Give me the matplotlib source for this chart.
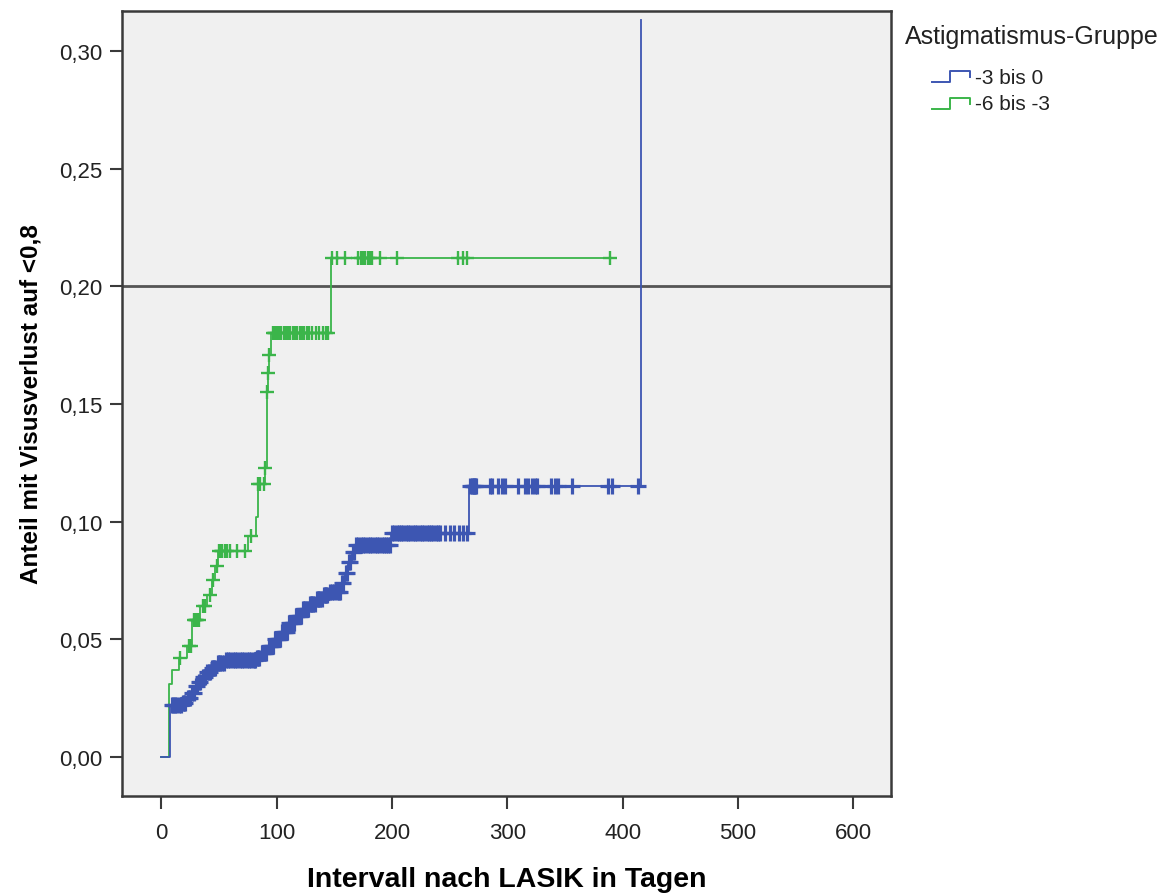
import numpy as np
import matplotlib
matplotlib.use("Agg")
import matplotlib.pyplot as plt
from matplotlib.lines import Line2D

# Kaplan-Meier style cumulative incidence
blue_t = [0, 7.5, 18, 22, 26, 29, 32, 35, 39, 43, 48, 55, 82, 86, 92, 98, 104, 110,
          116, 122, 128, 134, 140, 145, 156, 159, 162, 165, 168, 199, 267, 416]
blue_s = [0, 0.022, 0.023, 0.025, 0.027, 0.030, 0.032, 0.034, 0.036, 0.038, 0.040,
          0.041, 0.042, 0.044, 0.047, 0.050, 0.053, 0.057, 0.060, 0.063, 0.065, 0.067,
          0.069, 0.070, 0.074, 0.078, 0.083, 0.087, 0.090, 0.095, 0.115, 0.313]
blue_cens = [9, 10, 12, 13, 15, 17, 19, 20, 21, 23, 24, 25, 27, 28, 30, 31, 33, 34, 36,
             37, 38, 40, 41, 42, 44, 45, 46, 47, 49, 50, 51, 53, 54, 56, 58, 60, 62, 64,
             66, 68, 70, 72, 74, 76, 78, 80, 81, 83, 84, 85, 87, 88, 89, 90, 91, 93, 94,
             95, 96, 97, 99, 100, 101, 102, 103, 105, 106, 107, 108, 109, 111, 112, 113,
             114, 115, 117, 118, 119, 120, 121, 123, 124, 125, 126, 127, 129, 130, 131,
             132, 133, 135, 136, 137, 138, 139, 141, 142, 143, 144, 146, 148, 150, 152,
             154, 155, 157, 158, 160, 161, 163, 164, 166, 167, 169, 171, 173, 175, 177,
             179, 181, 183, 185, 187, 189, 191, 193, 195, 197, 198, 200, 202, 204, 206,
             208, 210, 212, 214, 216, 218, 220, 222, 224, 226, 228, 230, 232, 234, 236,
             238, 240, 242, 246, 250, 254, 258, 262, 265,
             268, 269, 270, 271, 272, 273, 285, 287, 292, 295, 298, 309, 315, 318, 321,
             324, 326, 338, 341, 344, 356, 387, 391, 413]

green_t = [0, 7, 9.5, 15, 22, 27, 34, 40, 44, 47, 49, 75, 82, 84, 90, 92, 92.5, 93,
           95, 147]
green_s = [0, 0.031, 0.037, 0.042, 0.047, 0.058, 0.064, 0.069, 0.075, 0.081, 0.0876,
           0.094, 0.102, 0.116, 0.123, 0.155, 0.163, 0.171, 0.180, 0.212]
green_end = 390
green_cens = [16, 24, 26, 28, 29, 30, 31, 33, 36, 38, 42, 45, 48, 50, 52, 53, 55, 57,
              60, 66, 73, 78, 84, 86, 89, 90, 92, 92.5, 93, 97, 98, 99, 100, 102, 104,
              106, 108, 110, 112, 114, 116, 118, 120, 122, 124, 126, 128, 131, 134,
              137, 140, 143, 145, 148, 152, 159, 171, 173, 175, 177, 179, 181, 183,
              190, 204, 257, 262, 265, 389]

ref_level = 0.20
x_ticks = [0, 100, 200, 300, 400, 500, 600]
y_ticks = [0.00, 0.05, 0.10, 0.15, 0.20, 0.25, 0.30]

blue = '#3d56b2'
green = '#3bb54a'

fig = plt.figure(figsize=(11.73, 8.95), dpi=100)
ax = fig.add_axes([0.104, 0.1095, 0.656, 0.877])
ax.set_facecolor('#f0f0f0')


def curve_at(t, s, c):
    t = np.asarray(t)
    s = np.asarray(s)
    idx = np.searchsorted(t, c, side='right') - 1
    return s[idx]


# green group
gt = green_t + [green_end]
gs = green_s + [green_s[-1]]
ax.plot(gt, gs, drawstyle='steps-post', color=green, lw=1.3, zorder=3)
ax.plot(green_cens, curve_at(green_t, green_s, green_cens), ls='none', marker='+',
        ms=10, mew=1.7, color=green, zorder=3)

# blue group
ax.plot(blue_t, blue_s, drawstyle='steps-post', color=blue, lw=1.3, zorder=4)
ax.plot(blue_cens, curve_at(blue_t, blue_s, blue_cens), ls='none', marker='+',
        ms=11, mew=2.3, color=blue, zorder=4)

ax.axhline(ref_level, color='#555555', lw=2, zorder=2)

ax.set_xlim(-34, 633)
ax.set_ylim(-0.0166, 0.317)
ax.set_xticks(x_ticks)
ax.set_yticks(y_ticks)
ax.set_yticklabels([f'{v:.2f}'.replace('.', ',') for v in y_ticks])
ax.set_xticklabels([str(v) for v in x_ticks])

for sp in ax.spines.values():
    sp.set_color('#3a3a3a')
    sp.set_linewidth(1.8)
ax.tick_params(direction='out', length=9, width=1.5, color='#3a3a3a',
               labelcolor='#222222', labelsize=16)
ax.tick_params(axis='x', pad=10)
ax.tick_params(axis='y', pad=5)
for lab in ax.get_xticklabels() + ax.get_yticklabels():
    lab.set_family('Liberation Sans')

ax.set_xlabel('Intervall nach LASIK in Tagen', fontsize=20.5, fontweight='bold',
              family='Liberation Sans', labelpad=16)
ax.set_ylabel('Anteil mit Visusverlust auf <0,8', fontsize=17.5, fontweight='bold',
              family='Liberation Sans', labelpad=12)

# legend drawn by hand, SPSS-like
fig.text(0.7715, 0.9587, 'Astigmatismus-Gruppe', fontsize=18, family='Liberation Sans',
         color='#222222', va='center')
legend_rows = [(blue, '-3 bis 0', 0.9128), (green, '-6 bis -3', 0.8827)]
for col, name, yc in legend_rows:
    xs = [0.7945, 0.8099, 0.8099, 0.8269, 0.8269]
    ys = [yc - 0.0055, yc - 0.0055, yc + 0.0068, yc + 0.0068, yc]
    fig.add_artist(Line2D(xs, ys, color=col, lw=1.4, transform=fig.transFigure))
    fig.text(0.8312, yc, name, fontsize=15, family='Liberation Sans', color='#222222',
             va='center')

fig.savefig('out.png', dpi=100)
